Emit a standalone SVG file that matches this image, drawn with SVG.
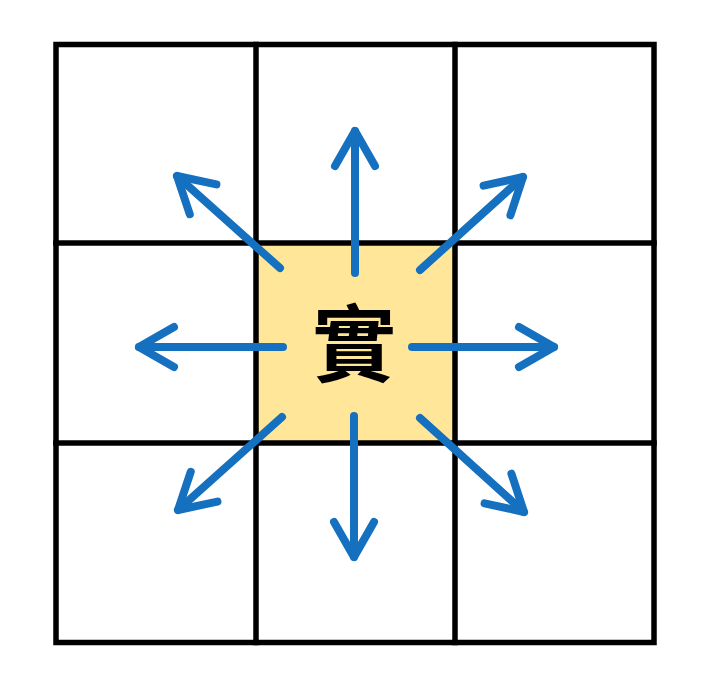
<svg xmlns="http://www.w3.org/2000/svg" width="707" height="678" viewBox="0 0 707 678">
<style>
.grid{stroke:#000;stroke-width:5.5;fill:none;stroke-linecap:square}
.arr{stroke:#1570BF;stroke-width:8;fill:none;stroke-linecap:round;marker-end:url(#head)}
.lbl{font-family:"Noto Sans CJK TC","Noto Sans CJK SC",sans-serif;font-weight:bold;font-size:84px;fill:#000}
</style>
<defs>
<marker id="head" markerUnits="userSpaceOnUse" viewBox="-40 -25 45 50" refX="0" refY="0" markerWidth="45" markerHeight="50" orient="auto" overflow="visible">
<path d="M-35,-20 L0,0 L-35,20" fill="none" stroke="#1570BF" stroke-width="8" stroke-linecap="round" stroke-linejoin="round"/>
</marker>
</defs>
<rect width="707" height="678" fill="#fff"/>
<g id="center">
<rect x="256" y="243" width="199" height="200" fill="#FFE699"/>
</g>
<g id="grid">
<rect class="grid" x="56" y="44.5" width="598" height="598"/>
<line class="grid" x1="256" y1="44.5" x2="256" y2="642.5"/>
<line class="grid" x1="455" y1="44.5" x2="455" y2="642.5"/>
<line class="grid" x1="56" y1="243" x2="654" y2="243"/>
<line class="grid" x1="56" y1="443" x2="654" y2="443"/>
</g>
<g id="label">
<text class="lbl" x="354" y="375" text-anchor="middle">實</text>
</g>
<g id="connectors">
<line class="arr" x1="355" y1="273" x2="355" y2="131"/>
<line class="arr" x1="354" y1="416" x2="354" y2="557"/>
<line class="arr" x1="283" y1="347" x2="139" y2="347"/>
<line class="arr" x1="412" y1="347" x2="554" y2="347"/>
<line class="arr" x1="280" y1="268" x2="177" y2="176"/>
<line class="arr" x1="420" y1="270" x2="523" y2="177"/>
<line class="arr" x1="282" y1="417" x2="178" y2="510"/>
<line class="arr" x1="420" y1="418" x2="524" y2="512"/>
</g>
</svg>
